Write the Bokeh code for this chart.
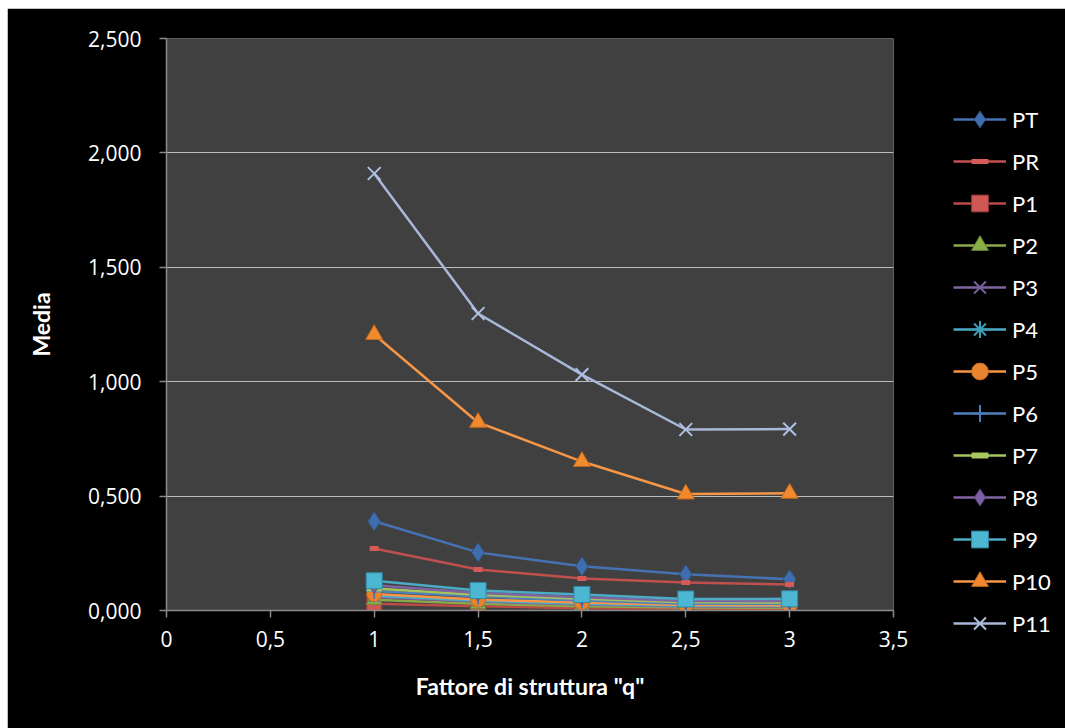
from bokeh.plotting import figure
from bokeh.models import Range1d, FixedTicker, CustomJSTickFormatter, Legend, LegendItem
from bokeh.embed import file_html
from bokeh.resources import INLINE

# Fattore di struttura "q"
q = [1, 1.5, 2, 2.5, 3]

# Media per series
PT = [0.390, 0.254, 0.193, 0.158, 0.137]
PR = [0.271, 0.179, 0.140, 0.122, 0.114]
P1 = [0.030, 0.019, 0.010, 0.008, 0.007]
P2 = [0.047, 0.029, 0.019, 0.013, 0.012]
P3 = [0.059, 0.039, 0.026, 0.018, 0.017]
P4 = [0.064, 0.043, 0.030, 0.021, 0.020]
P5 = [0.072, 0.048, 0.035, 0.024, 0.023]
P6 = [0.085, 0.061, 0.044, 0.030, 0.029]
P7 = [0.096, 0.069, 0.051, 0.036, 0.035]
P8 = [0.110, 0.077, 0.058, 0.042, 0.041]
P9 = [0.130, 0.087, 0.070, 0.050, 0.051]
P10 = [1.206, 0.822, 0.651, 0.509, 0.512]
P11 = [1.910, 1.298, 1.031, 0.791, 0.793]

names = ["PT", "PR", "P1", "P2", "P3", "P4", "P5", "P6", "P7", "P8", "P9", "P10", "P11"]
values = [PT, PR, P1, P2, P3, P4, P5, P6, P7, P8, P9, P10, P11]

y_ticks = [0, 0.5, 1.0, 1.5, 2.0, 2.5]
x_ticks = [0, 0.5, 1, 1.5, 2, 2.5, 3, 3.5]

# (line colour, marker, marker size, fill, outline, outline width)
# fill None -> stroked-only marker
styles = [
    ("#4672B4", "diamond", 19, "#3F6DAE", "#2E5689", 1),
    ("#C0504D", "dash", 9, None, "#D65A57", 5),
    ("#BE4B48", "square", 15, "#CF5855", "#953735", 1),
    ("#8AAA4A", "triangle", 16, "#8AAF46", "#6B8A36", 1),
    ("#8064A2", "x", 14, None, "#7B5E9E", 2),
    ("#4BACC6", "asterisk", 14, None, "#3E9DB7", 2),
    ("#F79646", "circle", 15, "#E8842F", "#C46A1F", 1),
    ("#4F81BD", "cross", 16, None, "#4A7CBA", 2),
    ("#A5C45C", "dash", 15, None, "#A9C85E", 6),
    ("#8064A2", "diamond", 16, "#7E5FA6", "#5F4680", 1),
    ("#4BACC6", "square", 16, "#4DB6D2", "#2E8CA6", 1),
    ("#F79646", "triangle", 17, "#F18A2E", "#C4681A", 1),
    ("#A9B8D9", "x", 18, None, "#AFC0E2", 2),
]

FONT = "Lato"

p = figure(
    width=1058, height=720,
    frame_width=727, frame_height=572,
    output_backend="svg", toolbar_location=None,
    x_range=Range1d(0, 3.5), y_range=Range1d(0, 2.5),
    min_border_left=159, min_border_right=172,
    min_border_top=30, min_border_bottom=118,
    background_fill_color="#404040",
    border_fill_color="#000000",
    outline_line_color=None,
)
p.styles = {"margin-left": "7px", "margin-top": "8px"}

items = []
for name, ys, (lc, mk, sz, fc, oc, ow) in zip(names, values, styles):
    lr = p.line(q, ys, line_color=lc, line_width=2.5)
    if fc is None:
        sr = p.scatter(q, ys, marker=mk, size=sz, line_color=oc, line_width=ow,
                       fill_alpha=0)
    else:
        sr = p.scatter(q, ys, marker=mk, size=sz, fill_color=fc, line_color=oc,
                       line_width=ow)
    items.append(LegendItem(label=name, renderers=[lr, sr]))

legend = Legend(
    items=items,
    location=(60, -34),
    glyph_width=53, glyph_height=42, label_height=42,
    spacing=0, padding=0, margin=0, label_standoff=6,
    label_text_color="#FFFFFF", label_text_font=FONT,
    label_text_font_size="22px",
    background_fill_alpha=0, border_line_alpha=0,
)
p.add_layout(legend, "right")

p.xgrid.grid_line_color = None
p.ygrid.ticker = FixedTicker(ticks=y_ticks)
p.ygrid.grid_line_color = "#BDBDBD"
p.ygrid.grid_line_width = 1

p.yaxis.ticker = FixedTicker(ticks=y_ticks)
p.xaxis.ticker = FixedTicker(ticks=x_ticks)
p.yaxis.formatter = CustomJSTickFormatter(code="return tick.toFixed(3).replace('.', ',');")
p.xaxis.formatter = CustomJSTickFormatter(
    code="return (Math.round(tick * 10) / 10).toString().replace('.', ',');")

for ax in (p.xaxis, p.yaxis):
    ax.axis_line_color = "#8A8A8A"
    ax.axis_line_width = 1.5
    ax.major_tick_line_color = "#8A8A8A"
    ax.major_tick_line_width = 1.5
    ax.major_tick_out = 7
    ax.major_tick_in = 0
    ax.minor_tick_line_color = None
    ax.major_label_text_color = "#FFFFFF"
    ax.major_label_text_font = "Open Sans"
    ax.major_label_text_font_size = "21px"
    ax.axis_label_text_color = "#FFFFFF"
    ax.axis_label_text_font = FONT
    ax.axis_label_text_font_style = "bold"
    ax.axis_label_text_font_size = "23px"

p.yaxis.axis_label = "Media"
p.xaxis.axis_label = 'Fattore di struttura "q"'
p.yaxis.major_label_standoff = 18
p.xaxis.major_label_standoff = 13
p.yaxis.axis_label_standoff = 30
p.xaxis.axis_label_standoff = 22

open("out.html", "w").write(file_html(p, INLINE))
